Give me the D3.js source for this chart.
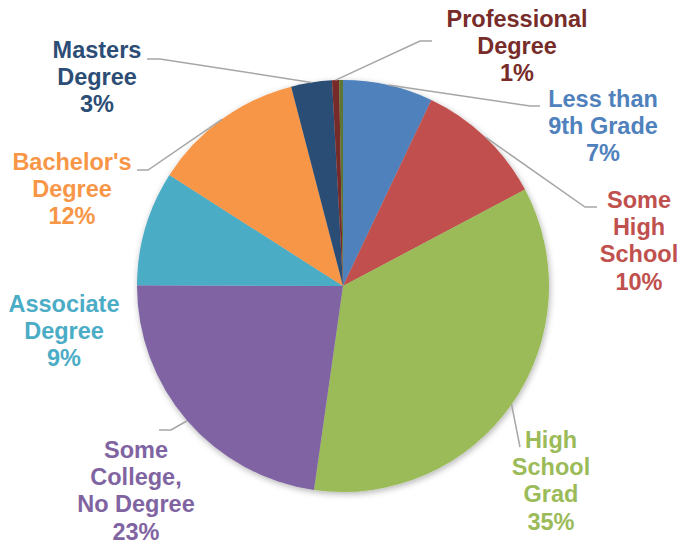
<!DOCTYPE html>
<html>
<head>
<meta charset="utf-8">
<script src="https://cdn.jsdelivr.net/npm/d3@7"></script>
<style>
  html, body { margin: 0; padding: 0; background: #fff; }
  svg { display: block; }
  text { font-family: "Liberation Sans", Arial, sans-serif; font-weight: bold; }
</style>
</head>
<body>
<svg id="chart" width="683" height="545"></svg>
<script>
// Educational attainment shares (percent), clockwise from 12 o'clock
const categories = [
  "Less than 9th Grade", "Some High School", "High School Grad",
  "Some College, No Degree", "Associate Degree", "Bachelor's Degree",
  "Masters Degree", "Professional Degree", "Doctorate Degree"
];
const values = [7.05, 10.2, 35.0, 22.8, 9.0, 11.9, 3.2, 0.55, 0.3];
const sliceColors = [
  "#4F81BD", "#C0504D", "#9BBB59", "#8064A2", "#4BACC6",
  "#F79646", "#2C4D75", "#772C2A", "#5F7530"
];
const labelColors = [
  "#4F81BD", "#C0504D", "#9BBB59", "#8064A2", "#4BACC6",
  "#F79646", "#2C4D75", "#772C2A", "#5F7530"
];
// Label text lines (the percentage line is appended from the value)
const labelLines = [
  ["Less than", "9th Grade"],
  ["Some", "High", "School"],
  ["High", "School", "Grad"],
  ["Some", "College,", "No Degree"],
  ["Associate", "Degree"],
  ["Bachelor's", "Degree"],
  ["Masters", "Degree"],
  ["Professional", "Degree"],
  null
];

// Label placement: centre x, first baseline, and leader-line waypoints
const labelLayout = [
  { x: 603, y: 107, path: [[530, 106], [540, 106]] },
  { x: 639, y: 208, path: [[585, 207], [597, 207]] },
  { x: 551, y: 448, path: [[520, 447]] },
  { x: 136, y: 458, path: [[171, 430], [159, 430]] },
  { x: 64,  y: 312, path: null },
  { x: 72,  y: 170, path: [[148, 170], [137, 170]] },
  { x: 97,  y: 58,  path: [[160, 59], [147, 59]] },
  { x: 517, y: 27,  path: [[420, 41], [432, 41]] },
  null
];

const svg = d3.select("#chart");
const cx = 343, cy = 286, radius = 206;
const lineStep = 27.2;

const defs = svg.append("defs");
const shadow = defs.append("filter").attr("id", "pieShadow")
  .attr("x", "-10%").attr("y", "-10%").attr("width", "120%").attr("height", "120%");
shadow.append("feDropShadow")
  .attr("dx", 1).attr("dy", 2).attr("stdDeviation", 3)
  .attr("flood-color", "#000").attr("flood-opacity", 0.3);

const data = categories.map((c, i) => ({ name: c, value: values[i], i }));
const total = d3.sum(values);
const fmt = d3.format(".0%");

const pie = d3.pie().sort(null).value(d => d.value);
const arcs = pie(data);
const arc = d3.arc().innerRadius(0).outerRadius(radius);
const edge = d3.arc().innerRadius(radius).outerRadius(radius);

const g = svg.append("g").attr("transform", `translate(${cx},${cy})`);

g.append("g").attr("filter", "url(#pieShadow)")
  .selectAll("path")
  .data(arcs)
  .join("path")
  .attr("d", arc)
  .attr("fill", d => sliceColors[d.data.i]);

// Leader lines from slice edge midpoints
const leaders = svg.append("g");
arcs.forEach(a => {
  const lay = labelLayout[a.data.i];
  if (!lay || !lay.path) return;
  const [ex, ey] = edge.centroid(a);
  const pts = [[cx + ex, cy + ey], ...lay.path];
  leaders.append("path")
    .attr("d", d3.line()(pts))
    .attr("fill", "none")
    .attr("stroke", "#A6A6A6")
    .attr("stroke-width", 1.5);
});

// Category labels with percentages
const labels = svg.append("g");
arcs.forEach(a => {
  const i = a.data.i;
  const lay = labelLayout[i];
  if (!lay || !labelLines[i]) return;
  const lines = [...labelLines[i], fmt(a.data.value / total)];
  const t = labels.append("text")
    .attr("text-anchor", "middle")
    .attr("fill", labelColors[i])
    .attr("font-size", 23.5);
  lines.forEach((ln, k) => {
    t.append("tspan").attr("x", lay.x).attr("y", lay.y + k * lineStep).text(ln);
  });
});
</script>
</body>
</html>
